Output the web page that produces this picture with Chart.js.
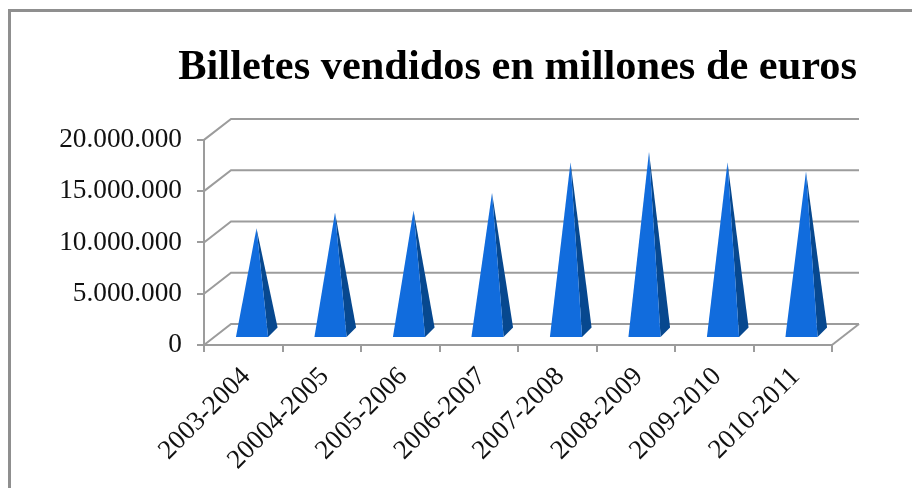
<!DOCTYPE html>
<html>
<head>
<meta charset="utf-8">
<title>Billetes vendidos</title>
<script src="https://cdn.jsdelivr.net/npm/chart.js@4/dist/chart.umd.min.js"></script>
<style>
	html, body { margin: 0; padding: 0; background: #fff; overflow: hidden; }
	#wrap { position: relative; width: 912px; height: 488px; }
	#wrap:before { content: ""; position: absolute; left: 8px; top: 9px; right: 0; bottom: 0; border-left: 3px solid #8f8f8f; border-top: 3px solid #8f8f8f; }
	#billetesChart { position: absolute; left: 0; top: 0; }
</style>
</head>
<body>
<div id="wrap"><canvas id="billetesChart" width="912" height="488"></canvas></div>
<script>
var categories = ['2003-2004', '20004-2005', '2005-2006', '2006-2007', '2007-2008', '2008-2009', '2009-2010', '2010-2011'];
var billetes = [10350000, 11900000, 12100000, 13800000, 16800000, 17800000, 16800000, 15900000];
var yTickLabels = ['0', '5.000.000', '10.000.000', '15.000.000', '20.000.000'];

var gridColor = '#9c9c9c';
var textColor = '#111';
var serif = '"Liberation Serif", "Times New Roman", serif';

// the 3D box: how far the back wall sits from the front of the axes
var depthX = 27, depthY = 21;

// draws the bars as pyramids instead of flat rectangles
class PyramidController extends Chart.BarController {
	draw() {
		var ctx = this.chart.ctx;
		var ds = this.getDataset();
		this.getMeta().data.forEach(function(bar) {
			var half = bar.width / 2;
			var left = bar.x - half, right = bar.x + half;
			var bottom = bar.base;
			var shift = 8.75, front = 7, back = 9.5;
			var tipX = bar.x + shift + 4.5, tipY = bar.y - 10.5;

			// side face first, then the front
			ctx.fillStyle = ds.sideColor;
			ctx.beginPath();
			ctx.moveTo(right + shift, bottom - front);
			ctx.lineTo(right + shift + back, bottom - front - back);
			ctx.lineTo(tipX, tipY);
			ctx.closePath();
			ctx.fill();

			ctx.fillStyle = ds.backgroundColor;
			ctx.beginPath();
			ctx.moveTo(left + shift, bottom - front);
			ctx.lineTo(right + shift, bottom - front);
			ctx.lineTo(tipX, tipY);
			ctx.closePath();
			ctx.fill();
		});
	}
}
PyramidController.id = 'pyramid';
PyramidController.defaults = Chart.BarController.defaults;
PyramidController.overrides = Chart.BarController.overrides;
Chart.register(PyramidController);

// back wall, side wall and floor
var wallPlugin = {
	id: 'wall',
	beforeDatasetsDraw: function(chart) {
		var ctx = chart.ctx;
		var area = chart.chartArea;
		var y = chart.scales.y;
		ctx.save();
		ctx.strokeStyle = gridColor;
		ctx.lineWidth = 2;
		y.ticks.forEach(function(tick) {
			var py = y.getPixelForValue(tick.value);
			ctx.beginPath();
			ctx.moveTo(area.left, py);
			ctx.lineTo(area.left + depthX, py - depthY);
			ctx.lineTo(area.right + depthX, py - depthY);
			ctx.stroke();
		});
		ctx.beginPath();
		ctx.moveTo(area.right, area.bottom);
		ctx.lineTo(area.right + depthX, area.bottom - depthY);
		ctx.stroke();
		ctx.restore();
	}
};

var chart = new Chart(document.getElementById('billetesChart').getContext('2d'), {
	type: 'pyramid',
	data: {
		labels: categories,
		datasets: [{
			label: 'Billetes vendidos',
			data: billetes,
			backgroundColor: '#116cdd',
			sideColor: '#07488f',
			borderWidth: 0,
			barPercentage: 0.41,
			categoryPercentage: 1
		}]
	},
	plugins: [wallPlugin],
	options: {
		responsive: false,
		animation: false,
		layout: { padding: { left: 0, right: 55, top: 0, bottom: 0 } },
		plugins: {
			legend: { display: false },
			tooltip: { enabled: false },
			title: {
				display: true,
				text: 'Billetes vendidos en millones de euros',
				align: 'end',
				color: '#000',
				font: { family: serif, size: 42.4, weight: 'bold', lineHeight: 1.2 },
				padding: { top: 43, bottom: 46 }
			}
		},
		scales: {
			x: {
				offset: true,
				border: { color: gridColor, width: 2 },
				grid: { offset: true, drawOnChartArea: false, drawTicks: true, tickLength: 7, color: gridColor, lineWidth: 2 },
				ticks: { maxRotation: 45, minRotation: 45, autoSkip: false, color: textColor, padding: 9, labelOffset: 3, font: { family: serif, size: 27 } },
				afterFit: function(scale) { scale.height = 143; }
			},
			y: {
				min: 0,
				max: 20000000,
				border: { color: gridColor, width: 2 },
				grid: { drawOnChartArea: false, drawTicks: true, tickLength: 7, color: gridColor, lineWidth: 2 },
				ticks: {
					stepSize: 5000000,
					color: textColor,
					padding: 15,
					font: { family: serif, size: 27.3 },
					callback: function(value, index) { return yTickLabels[index]; }
				},
				afterFit: function(scale) { scale.width = 204; }
			},
			// empty axis, only keeps room on the right for the 3D depth
			yRight: {
				position: 'right',
				border: { display: false },
				grid: { display: false },
				ticks: { display: false },
				afterFit: function(scale) { scale.width = 25; }
			}
		}
	}
});
</script>
</body>
</html>
